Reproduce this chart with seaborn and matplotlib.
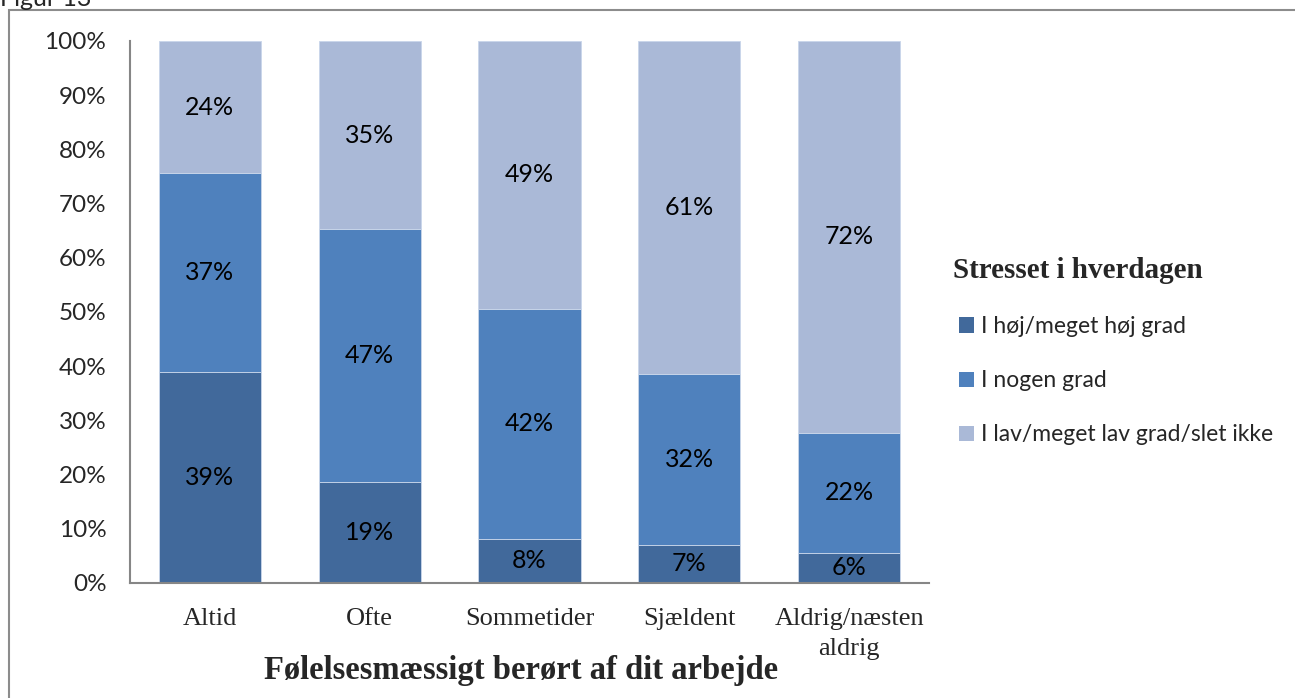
import matplotlib
matplotlib.use("Agg")
import matplotlib.pyplot as plt
import seaborn as sns
import numpy as np
from matplotlib.patches import Patch, Rectangle

# Categories and shares (percent) per answer group
categories = ["Altid", "Ofte", "Sommetider", "Sjældent", "Aldrig/næsten\naldrig"]
series_names = ["I høj/meget høj grad", "I nogen grad", "I lav/meget lav grad/slet ikke"]
hoej = [38.9, 18.6, 8.2, 7.0, 5.6]
nogen = [36.7, 46.7, 42.4, 31.6, 22.1]
lav = [24.4, 34.7, 49.4, 61.4, 72.3]
colors = ["#41699B", "#4F81BD", "#AAB9D7"]
yticks = [0, 10, 20, 30, 40, 50, 60, 70, 80, 90, 100]

sns.set_theme(style="white")
plt.rcParams["font.family"] = ["Lato", "DejaVu Sans"]
sans = ["Lato", "DejaVu Sans"]
serif = "Liberation Serif"

fig = plt.figure(figsize=(12.95, 6.98), dpi=100)
ax = fig.add_axes([0.1004, 0.1648, 0.6170, 0.7765])

series = [hoej, nogen, lav]
bottom = np.zeros(len(categories))
for vals, col in zip(series, colors):
    sns.barplot(x=categories, y=vals, bottom=bottom, color=col, width=0.64,
                saturation=1, ax=ax, edgecolor="#C9D6EA", linewidth=0.6)
    for i, v in enumerate(vals):
        ax.text(i, bottom[i] + v / 2, f"{v:.0f}%", ha="center", va="center",
                fontsize=18, color="black", family=sans)
    bottom = bottom + np.array(vals)

ax.set_ylim(0, 100)
ax.set_xlim(-0.5, len(categories) - 0.5)
ax.set_yticks(yticks)
ax.set_yticklabels([f"{t}%" for t in yticks], fontsize=17.5)
ax.tick_params(axis="y", length=0, pad=17)
ax.tick_params(axis="x", length=0, pad=18)
for lbl in ax.get_xticklabels():
    lbl.set_fontfamily(serif)
    lbl.set_fontsize(19)
    lbl.set_linespacing(1.45)

for s in ["top", "right"]:
    ax.spines[s].set_visible(False)
for s in ["left", "bottom"]:
    ax.spines[s].set_color("#868686")
    ax.spines[s].set_linewidth(1.5)

ax.set_xlabel("Følelsesmæssigt berørt af dit arbejde", fontsize=23.5,
              fontweight="bold", family=serif)
ax.xaxis.set_label_coords(0.489, -0.161)
ax.xaxis.label.set_va("center")
ax.set_ylabel("")

# Legend: title drawn as its own text, entries indented below it
fig.text(953 / 1295, 1 - 271 / 698, "Stresset i hverdagen", fontsize=21,
         fontweight="bold", family=serif, ha="left", va="center")
handles = [Patch(facecolor=c, edgecolor="none") for c in colors]
fig.legend(handles, series_names, loc="upper left",
           bbox_to_anchor=(959 / 1295, 1 - 316 / 698), frameon=False,
           fontsize=16.5, borderpad=0, borderaxespad=0,
           handlelength=0.65, handleheight=0.65, handletextpad=0.3,
           labelspacing=1.45)

# Outer chart frame and caption
fig.patches.append(Rectangle((9 / 1295, -0.05), 1.1, 1 - 10 / 698 + 0.05,
                             transform=fig.transFigure, fill=False,
                             edgecolor="#8C8C8C", linewidth=1.5))
fig.text(0.0, 1 - 6 / 698, "Figur 13", fontsize=18, ha="left",
         va="baseline", family=sans)

fig.savefig("out.png", dpi=100)
